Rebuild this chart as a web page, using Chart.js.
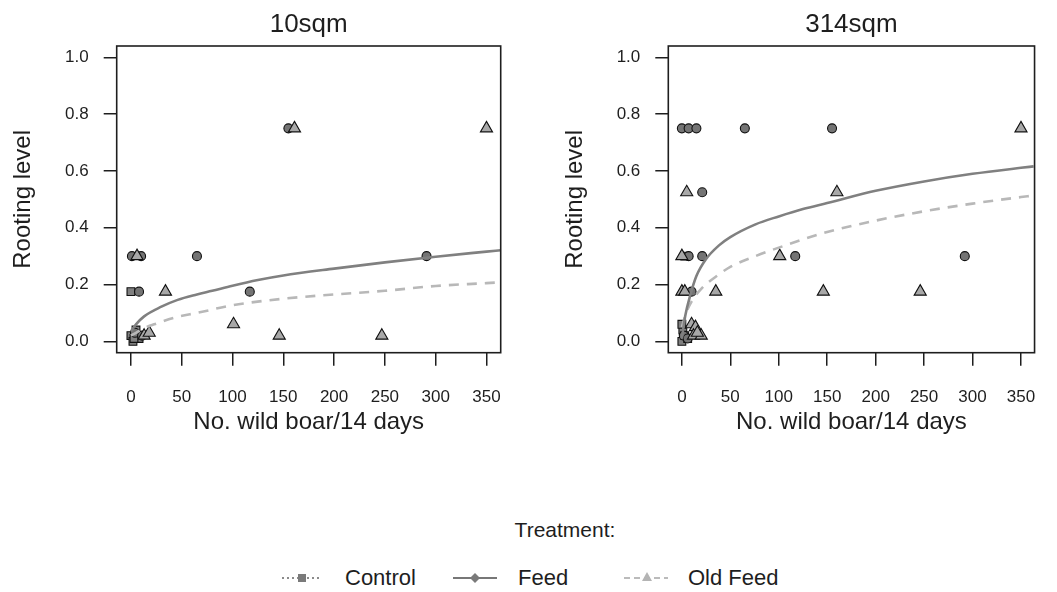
<!DOCTYPE html>
<html>
<head>
<meta charset="utf-8">
<script src="https://cdn.jsdelivr.net/npm/chart.js@4.4.1/dist/chart.umd.min.js"></script>
<style>
  html, body { margin: 0; padding: 0; background: #fff; }
  body { width: 1057px; height: 592px; position: relative; overflow: hidden;
         font-family: 'Liberation Sans', Arial, sans-serif; color: #1e1e1e; }
  .pane { position: absolute; top: 0; }
  .lg { position: absolute; font-size: 22px; line-height: 26px; white-space: nowrap; }
</style>
</head>
<body>
<div class="pane" style="left:0;width:528px;height:440px"><canvas id="c1" width="528" height="440"></canvas></div>
<div class="pane" style="left:530px;width:527px;height:440px"><canvas id="c2" width="527" height="440"></canvas></div>

<div class="lg" style="left:465px;width:200px;text-align:center;top:517px;font-size:21px">Treatment:</div>
<svg style="position:absolute;left:0;top:560px" width="1057" height="32">
  <line x1="282" y1="18" x2="322" y2="18" stroke="#666" stroke-width="1.5" stroke-dasharray="2,3"/>
  <rect x="298" y="14" width="8" height="8" fill="#7a7a7a"/>
  <line x1="453" y1="18" x2="497" y2="18" stroke="#777" stroke-width="1.8"/>
  <polygon points="475,13 480,18 475,23 470,18" fill="#7a7a7a"/>
  <line x1="624" y1="18" x2="668" y2="18" stroke="#bbb" stroke-width="1.8" stroke-dasharray="6,4"/>
  <polygon points="647,12 652,21 642,21" fill="#b4b4b4"/>
</svg>
<div class="lg" style="left:345px;top:565px">Control</div>
<div class="lg" style="left:518px;top:565px">Feed</div>
<div class="lg" style="left:688px;top:565px">Old Feed</div>

<script>
// ---------- data ----------
const panelTitles = ['10sqm', '314sqm'];
const xTicks = [0, 50, 100, 150, 200, 250, 300, 350];
const yTicks = [0, 0.2, 0.4, 0.6, 0.8, 1.0];
const yTickLabels = ['0.0', '0.2', '0.4', '0.6', '0.8', '1.0'];
const xTitle = 'No. wild boar/14 days';
const yTitle = 'Rooting level';

// 10sqm points
const ctrl10X = [0, 0, 2, 5, 8, 3];
const ctrl10Y = [0.175, 0.02, 0.0, 0.04, 0.01, 0.01];
const feed10X = [155, 1, 10, 65, 291, 8, 117, 4, 11];
const feed10Y = [0.75, 0.3, 0.3, 0.3, 0.3, 0.175, 0.175, 0.03, 0.02];
const old10X = [161, 350, 6, 34, 101, 146, 247, 13, 18];
const old10Y = [0.75, 0.75, 0.3, 0.175, 0.06, 0.02, 0.02, 0.02, 0.03];

// 314sqm points
const ctrl314X = [3, 0, 1, 3, 0, 6];
const ctrl314Y = [0.3, 0.0, 0.04, 0.02, 0.06, 0.01];
const feed314X = [0, 7, 15, 65, 155, 21, 7, 21, 117, 292, 10, 2, 6];
const feed314Y = [0.75, 0.75, 0.75, 0.75, 0.75, 0.525, 0.3, 0.3, 0.3, 0.3, 0.175, 0.02, 0.01];
const old314X = [350, 5, 160, 0, 101, 0, 3, 35, 146, 246, 10, 14, 12, 20, 16];
const old314Y = [0.75, 0.525, 0.525, 0.3, 0.3, 0.175, 0.175, 0.175, 0.175, 0.175, 0.06, 0.05, 0.02, 0.02, 0.03];

// fitted curves
const fitFeed10X = [0, 5, 13, 30, 46, 65, 80, 100, 125, 150, 200, 250, 300, 350, 364];
const fitFeed10Y = [0.035, 0.06, 0.088, 0.122, 0.146, 0.165, 0.178, 0.196, 0.216, 0.232, 0.256, 0.278, 0.298, 0.316, 0.321];
const fitOld10X = [0, 5, 12, 23, 46, 65, 100, 150, 200, 250, 300, 350, 364];
const fitOld10Y = [0.02, 0.03, 0.045, 0.06, 0.086, 0.1, 0.127, 0.15, 0.165, 0.178, 0.195, 0.205, 0.208];
const fitFeed314X = [0, 3.5, 8.5, 15, 25, 38, 50, 76, 100, 125, 150, 200, 250, 300, 350, 363];
const fitFeed314Y = [0.01, 0.09, 0.16, 0.23, 0.29, 0.337, 0.367, 0.412, 0.44, 0.466, 0.487, 0.53, 0.563, 0.59, 0.611, 0.616];
const fitOld314X = [0, 5, 10, 20, 38, 50, 76, 100, 150, 200, 250, 300, 350, 360];
const fitOld314Y = [0.05, 0.105, 0.14, 0.185, 0.235, 0.262, 0.3, 0.33, 0.385, 0.425, 0.458, 0.485, 0.508, 0.512];

// ---------- helpers ----------
const zip = (xs, ys) => xs.map((x, i) => ({ x: x, y: ys[i] }));
const FONT = "'Liberation Sans', Arial, sans-serif";
const TXT = '#1e1e1e';

const boxPlugin = {
  id: 'box',
  afterDraw(chart) {
    const a = chart.chartArea, c = chart.ctx;
    c.save();
    c.strokeStyle = '#1e1e1e';
    c.lineWidth = 1.6;
    c.strokeRect(a.left, a.top, a.right - a.left, a.bottom - a.top);
    c.restore();
  }
};

function makeChart(id, title, padLeft, padRight, ctrl, feed, old, fitFeed, fitOld) {
  const pointDs = (label, data, style, fill, r, order) => ({
    label, data, pointStyle: style, pointRadius: r, pointHoverRadius: r,
    pointBackgroundColor: fill, pointBorderColor: '#111', pointBorderWidth: 1.1,
    showLine: false, order
  });
  return new Chart(document.getElementById(id), {
    type: 'scatter',
    data: {
      datasets: [
        { label: 'Feed fit', data: fitFeed, showLine: true, pointRadius: 0, borderColor: '#808080',
          borderWidth: 2.6, cubicInterpolationMode: 'monotone', order: 1 },
        { label: 'Old Feed fit', data: fitOld, showLine: true, pointRadius: 0, borderColor: '#b8b8b8',
          borderWidth: 2.6, borderDash: [10, 8], cubicInterpolationMode: 'monotone', order: 2 },
        pointDs('Old Feed', old, 'triangle', '#a8a8a8', 7, 3),
        pointDs('Feed', feed, 'circle', '#747474', 4.5, 4),
        pointDs('Control', ctrl, 'rect', '#808080', 5.5, 5)
      ]
    },
    options: {
      responsive: false,
      devicePixelRatio: 1,
      animation: false,
      layout: { padding: { left: padLeft, right: padRight, top: 0, bottom: 0 } },
      plugins: {
        legend: { display: false },
        tooltip: { enabled: false },
        title: {
          display: true, text: title, fullSize: false, color: TXT,
          font: { family: FONT, size: 26, weight: 'normal', lineHeight: 1.2 },
          padding: { top: 9, bottom: 5.8 }
        }
      },
      scales: {
        x: {
          type: 'linear', min: -14, max: 364,
          afterBuildTicks: s => { s.ticks = xTicks.map(v => ({ value: v })); },
          afterFit: s => { s.height = 87.3; },
          grid: { drawOnChartArea: false, drawTicks: true, tickLength: 13, color: '#1e1e1e', lineWidth: 1.5 },
          border: { display: false },
          ticks: { color: TXT, font: { family: FONT, size: 17 }, padding: 21, maxRotation: 0,
                   callback: (v, i) => String(xTicks[i]) },
          title: { display: true, text: xTitle, color: TXT,
                   font: { family: FONT, size: 24, lineHeight: 1.2 }, padding: { top: 0, bottom: 3 } }
        },
        y: {
          type: 'linear', min: -0.04, max: 1.04,
          afterBuildTicks: s => { s.ticks = yTicks.map(v => ({ value: v })); },
          afterFit: s => { s.width = 116.7; },
          grid: { drawOnChartArea: false, drawTicks: true, tickLength: 13, color: '#1e1e1e', lineWidth: 1.5 },
          border: { display: false },
          ticks: { color: TXT, font: { family: FONT, size: 17 }, padding: 15,
                   callback: (v, i) => yTickLabels[i] },
          title: { display: true, text: yTitle, color: TXT,
                   font: { family: FONT, size: 24, lineHeight: 1.2 }, padding: { top: 9, bottom: 0 } }
        }
      }
    },
    plugins: [boxPlugin]
  });
}

makeChart('c1', panelTitles[0], 0, 27.3,
  zip(ctrl10X, ctrl10Y), zip(feed10X, feed10Y), zip(old10X, old10Y),
  zip(fitFeed10X, fitFeed10Y), zip(fitOld10X, fitOld10Y));
makeChart('c2', panelTitles[1], 21.6, 5.3,
  zip(ctrl314X, ctrl314Y), zip(feed314X, feed314Y), zip(old314X, old314Y),
  zip(fitFeed314X, fitFeed314Y), zip(fitOld314X, fitOld314Y));
</script>
</body>
</html>
